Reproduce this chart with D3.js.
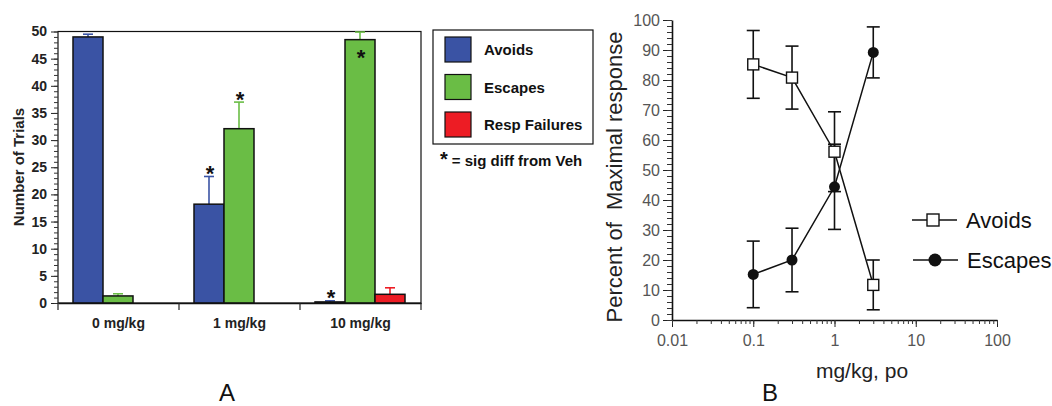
<!DOCTYPE html>
<html><head><meta charset="utf-8">
<script src="https://cdn.jsdelivr.net/npm/d3@7"></script>
<style>
body{margin:0;background:#fff}
svg{display:block}
text{font-family:"Liberation Sans",Arial,sans-serif}
</style>
</head><body>
<svg id="c" width="1052" height="406"></svg>
<script>
// ---------- Panel A data ----------
const doses = ["0 mg/kg", "1 mg/kg", "10 mg/kg"];
const seriesA = ["Avoids", "Escapes", "Resp Failures"];
const avoidsA = [49.0, 18.2, 0.2];
const avoidsErrA = [0.5, 5.1, 0.2];
const escapesA = [1.3, 32.1, 48.5];
const escapesErrA = [0.4, 4.9, 1.4];
const failuresA = [0, 0, 1.6];
const failuresErrA = [0, 0, 1.2];
const colorsA = ["#3a53a4", "#6abd45", "#ed1c24"];
const yTicksA = [0, 5, 10, 15, 20, 25, 30, 35, 40, 45, 50];
const starsA = [
  {dose: "1 mg/kg", series: "Avoids", inside: false},
  {dose: "1 mg/kg", series: "Escapes", inside: false},
  {dose: "10 mg/kg", series: "Avoids", inside: false},
  {dose: "10 mg/kg", series: "Escapes", inside: true}
];

// ---------- Panel B data ----------
const dosesB = [0.1, 0.3, 1, 3];
const avoidsB = [85.2, 80.8, 56.1, 11.7];
const avoidsErrB = [11.3, 10.5, 13.3, 8.3];
const escapesB = [15.2, 20.0, 44.4, 89.2];
const escapesErrB = [11.1, 10.6, 14.2, 8.5];
const xTicksB = [0.01, 0.1, 1, 10, 100];
const xTickLabelsB = ["0.01", "0.1", "1", "10", "100"];
const yTicksB = [0, 10, 20, 30, 40, 50, 60, 70, 80, 90, 100];

const svg = d3.select("#c");

// ================= PANEL A =================
const valsA = [avoidsA, escapesA, failuresA];
const errsA = [avoidsErrA, escapesErrA, failuresErrA];
const xA = d3.scaleBand().domain(doses).range([58, 421]).paddingInner(0).paddingOuter(0);
const xInA = d3.scaleBand().domain(seriesA).range([15, 105]);
const yA = d3.scaleLinear().domain([0, 50]).range([303, 31.5]);
const colA = d3.scaleOrdinal().domain(seriesA).range(colorsA);

const gA = svg.append("g");

// frame
gA.append("rect").attr("x", xA.range()[0]).attr("y", yA(50))
  .attr("width", xA.range()[1] - xA.range()[0]).attr("height", yA(0) - yA(50))
  .attr("fill", "none").attr("stroke", "#111").attr("stroke-width", 1.2);

// bars
const barData = [];
doses.forEach((d, i) => seriesA.forEach((s, j) => {
  barData.push({dose: d, series: s, v: valsA[j][i], e: errsA[j][i]});
}));
const bx = d => xA(d.dose) + xInA(d.series);

// error bars (behind bars)
const eb = gA.append("g").selectAll("g").data(barData.filter(d => d.e > 0)).join("g")
  .attr("stroke", d => colA(d.series)).attr("stroke-width", 1.6);
eb.append("line").attr("x1", d => bx(d) + xInA.bandwidth() / 2).attr("x2", d => bx(d) + xInA.bandwidth() / 2)
  .attr("y1", d => yA(d.v)).attr("y2", d => yA(d.v + d.e));
eb.append("line").attr("x1", d => bx(d) + xInA.bandwidth() / 2 - 5).attr("x2", d => bx(d) + xInA.bandwidth() / 2 + 5)
  .attr("y1", d => yA(d.v + d.e)).attr("y2", d => yA(d.v + d.e));

gA.append("g").selectAll("rect").data(barData.filter(d => d.v > 0)).join("rect")
  .attr("x", bx).attr("width", xInA.bandwidth())
  .attr("y", d => yA(d.v)).attr("height", d => yA(0) - yA(d.v))
  .attr("fill", d => colA(d.series)).attr("stroke", "#111").attr("stroke-width", 1.5);

// stars
gA.append("g").selectAll("text").data(starsA).join("text")
  .attr("x", d => xA(d.dose) + xInA(d.series) + xInA.bandwidth() / 2 + 1)
  .attr("y", d => {
    const j = seriesA.indexOf(d.series), i = doses.indexOf(d.dose);
    const v = valsA[j][i], e = errsA[j][i];
    return d.inside ? yA(v) + 13 + 12.5 : yA(v + e) - 8 + 12.5;
  })
  .attr("text-anchor", "middle").attr("font-size", 22).attr("font-weight", "bold").attr("fill", "#111")
  .text("*");

// y axis
const yAxA = gA.append("g").attr("transform", `translate(${xA.range()[0]},0)`)
  .call(d3.axisLeft(yA).tickValues(yTicksA).tickSize(7).tickPadding(4));
yAxA.select(".domain").remove();
yAxA.selectAll("text").attr("font-size", 14).attr("font-weight", "bold").attr("fill", "#222")
  .attr("font-family", "Liberation Sans, Arial, sans-serif");
yAxA.selectAll("line").attr("stroke", "#222");
const yMinA = gA.append("g").attr("transform", `translate(${xA.range()[0]},0)`)
  .call(d3.axisLeft(yA).tickValues(d3.range(0, 51, 1)).tickSize(4).tickFormat(""));
yMinA.select(".domain").remove();
yMinA.selectAll("line").attr("stroke", "#333");

// x axis
const xAxA = gA.append("g").attr("transform", `translate(0,${yA(0)})`)
  .call(d3.axisBottom(xA).tickSize(0).tickPadding(15));
xAxA.select(".domain").attr("stroke", "#111").attr("stroke-width", 1.4);
xAxA.selectAll("text").attr("font-size", 14).attr("font-weight", "bold").attr("fill", "#222")
  .attr("font-family", "Liberation Sans, Arial, sans-serif");
const edges = doses.map(d => xA(d)).concat([xA.range()[1]]);
gA.append("g").selectAll("line").data(edges).join("line")
  .attr("x1", d => d).attr("x2", d => d).attr("y1", yA(0)).attr("y2", yA(0) + 7)
  .attr("stroke", "#222").attr("stroke-width", 1.2);

// y title
gA.append("text").attr("transform", "translate(24,167) rotate(-90)")
  .attr("text-anchor", "middle").attr("font-size", 15).attr("font-weight", "bold").attr("fill", "#222")
  .text("Number of Trials");

// legend A
const lgA = gA.append("g");
lgA.append("rect").attr("x", 433).attr("y", 30).attr("width", 160).attr("height", 114)
  .attr("fill", "#fff").attr("stroke", "#111").attr("stroke-width", 1.2);
const lgItems = lgA.selectAll("g").data(seriesA).join("g")
  .attr("transform", (d, i) => `translate(445,${37 + i * 37.5})`);
lgItems.append("rect").attr("width", 26).attr("height", 25)
  .attr("fill", d => colA(d)).attr("stroke", "#111").attr("stroke-width", 1.2);
lgItems.append("text").attr("x", 39).attr("y", 18).attr("font-size", 15).attr("font-weight", "bold")
  .attr("fill", "#111").text(d => d);
const note = lgA.append("text").attr("x", 440).attr("y", 166).attr("font-weight", "bold").attr("fill", "#111");
note.append("tspan").attr("font-size", 20).text("*");
note.append("tspan").attr("font-size", 15).attr("dx", 4).text("= sig diff from Veh");

// panel label
svg.append("text").attr("x", 227).attr("y", 401).attr("text-anchor", "middle")
  .attr("font-size", 24).attr("fill", "#111").attr("font-family", "Liberation Sans, Arial, sans-serif").text("A");

// ================= PANEL B =================
const xB = d3.scaleLog().domain([0.01, 100]).range([672, 997]);
const yB = d3.scaleLinear().domain([0, 100]).range([320, 20]);
const gB = svg.append("g");

// axes
const yAxB = gB.append("g").attr("transform", `translate(${xB.range()[0]},0)`)
  .call(d3.axisLeft(yB).tickValues(yTicksB).tickSize(9).tickPadding(3).tickSizeOuter(0));
yAxB.select(".domain").attr("stroke", "#111").attr("stroke-width", 1.6);
yAxB.selectAll("line").attr("stroke", "#222");
yAxB.selectAll("text").attr("font-size", 16).attr("fill", "#555")
  .attr("font-family", "Liberation Sans, Arial, sans-serif");
const yMinB = gB.append("g").attr("transform", `translate(${xB.range()[0]},0)`)
  .call(d3.axisLeft(yB).tickValues(d3.range(0, 101, 2)).tickSize(5).tickFormat(""));
yMinB.select(".domain").remove();
yMinB.selectAll("line").attr("stroke", "#333");

const xAxB = gB.append("g").attr("transform", `translate(0,${yB(0)})`)
  .call(d3.axisBottom(xB).tickValues(xTicksB).tickFormat((d, i) => xTickLabelsB[i]).tickSize(7).tickPadding(8).tickSizeOuter(0));
xAxB.select(".domain").attr("stroke", "#111").attr("stroke-width", 1.6);
xAxB.selectAll("line").attr("stroke", "#222");
xAxB.selectAll("text").attr("font-size", 16).attr("fill", "#555")
  .attr("font-family", "Liberation Sans, Arial, sans-serif");
const xMinB = gB.append("g").attr("transform", `translate(0,${yB(0)})`)
  .call(d3.axisBottom(xB).tickValues(xB.ticks()).tickSize(4).tickFormat(""));
xMinB.select(".domain").remove();
xMinB.selectAll("line").attr("stroke", "#333");

// titles
gB.append("text").attr("transform", "translate(622,177) rotate(-90)")
  .attr("text-anchor", "middle").attr("font-size", 22).attr("fill", "#222")
  .attr("xml:space", "preserve").style("white-space", "pre")
  .text("Percent of  Maximal response");
gB.append("text").attr("x", 862).attr("y", 378).attr("text-anchor", "middle")
  .attr("font-size", 21).attr("fill", "#222").text("mg/kg, po");
svg.append("text").attr("x", 770).attr("y", 401).attr("text-anchor", "middle")
  .attr("font-size", 24).attr("fill", "#111").attr("font-family", "Liberation Sans, Arial, sans-serif").text("B");

const seriesB = [
  {name: "Avoids", vals: avoidsB, errs: avoidsErrB, marker: "square"},
  {name: "Escapes", vals: escapesB, errs: escapesErrB, marker: "circle"}
];
const line = d3.line().x(d => xB(d.x)).y(d => yB(d.y));

seriesB.forEach(s => {
  const pts = dosesB.map((x, i) => ({x, y: s.vals[i], e: s.errs[i]}));
  const g = gB.append("g");
  // error bars
  const e = g.append("g").selectAll("g").data(pts).join("g").attr("stroke", "#111").attr("stroke-width", 1.6);
  e.append("line").attr("x1", d => xB(d.x)).attr("x2", d => xB(d.x))
    .attr("y1", d => yB(d.y - d.e)).attr("y2", d => yB(d.y + d.e));
  e.append("line").attr("x1", d => xB(d.x) - 6.5).attr("x2", d => xB(d.x) + 6.5)
    .attr("y1", d => yB(d.y + d.e)).attr("y2", d => yB(d.y + d.e));
  e.append("line").attr("x1", d => xB(d.x) - 6.5).attr("x2", d => xB(d.x) + 6.5)
    .attr("y1", d => yB(d.y - d.e)).attr("y2", d => yB(d.y - d.e));
  g.append("path").datum(pts).attr("d", line).attr("fill", "none").attr("stroke", "#111").attr("stroke-width", 1.5);
});
// markers on top
seriesB.forEach(s => {
  const pts = dosesB.map((x, i) => ({x, y: s.vals[i]}));
  const g = gB.append("g");
  if (s.marker === "square") {
    g.selectAll("rect").data(pts).join("rect")
      .attr("x", d => xB(d.x) - 5.5).attr("y", d => yB(d.y) - 5.5).attr("width", 11).attr("height", 11)
      .attr("fill", "#fff").attr("stroke", "#111").attr("stroke-width", 1.4);
  } else {
    g.selectAll("circle").data(pts).join("circle")
      .attr("cx", d => xB(d.x)).attr("cy", d => yB(d.y)).attr("r", 5.5).attr("fill", "#111");
  }
});

// legend B
const lgB = gB.append("g");
seriesB.forEach((s, i) => {
  const y = 220 + i * 40, x0 = 912 + i;
  lgB.append("line").attr("x1", x0).attr("x2", x0 + 45).attr("y1", y).attr("y2", y)
    .attr("stroke", "#111").attr("stroke-width", 1.6);
  if (s.marker === "square") {
    lgB.append("rect").attr("x", x0 + 21 - 6).attr("y", y - 6).attr("width", 12).attr("height", 12)
      .attr("fill", "#fff").attr("stroke", "#111").attr("stroke-width", 1.4);
  } else {
    lgB.append("circle").attr("cx", x0 + 22).attr("cy", y).attr("r", 6.5).attr("fill", "#111");
  }
  lgB.append("text").attr("x", x0 + 54).attr("y", y + 7.5).attr("font-size", 22).attr("fill", "#111").text(s.name);
});
</script>
</body></html>
